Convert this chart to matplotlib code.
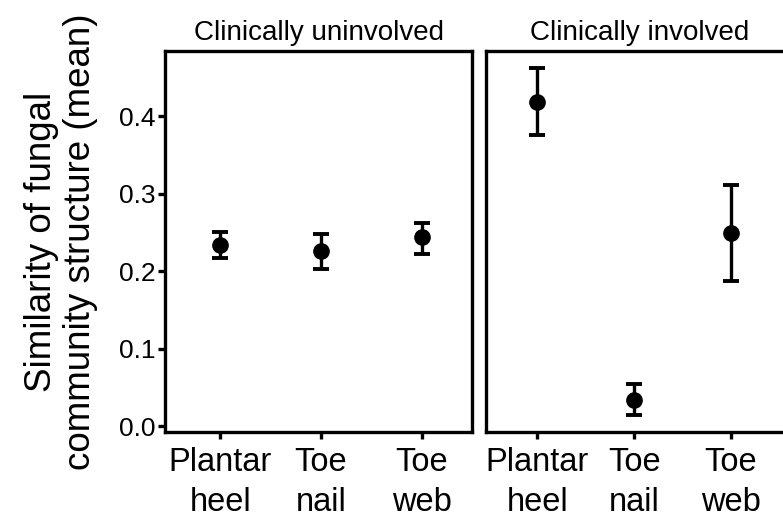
import numpy as np
import matplotlib
matplotlib.use("Agg")
import matplotlib.pyplot as plt

plt.rcParams['font.family'] = ['Liberation Sans', 'DejaVu Sans']

sites = ["Plantar\nheel", "Toe\nnail", "Toe\nweb"]
panels = ["Clinically uninvolved", "Clinically involved"]

# mean and error bar ends
mean_uninv = [0.234, 0.226, 0.244]
low_uninv = [0.217, 0.203, 0.223]
high_uninv = [0.251, 0.248, 0.263]

mean_inv = [0.419, 0.034, 0.250]
low_inv = [0.376, 0.015, 0.187]
high_inv = [0.462, 0.055, 0.312]

W, H = 783, 520
fig = plt.figure(figsize=(W / 100, H / 100), dpi=100)

# panel frames in pixels: left, top, right, bottom
boxes = [(165, 51, 472, 432), (486, 51, 793, 432)]
xlims = [(0.45, 3.5), (0.47, 3.64)]

all_low = low_uninv + low_inv
all_high = high_uninv + high_inv
rng = max(all_high) - min(all_low)
ylim = (min(all_low) - 0.05 * rng, max(all_high) + 0.05 * rng)

series = [(mean_uninv, low_uninv, high_uninv), (mean_inv, low_inv, high_inv)]

for i, (box, title, (m, lo, hi)) in enumerate(zip(boxes, panels, series)):
    l, t, r, b = box
    ax = fig.add_axes([l / W, (H - b) / H, (r - l) / W, (b - t) / H])
    x = np.arange(1, len(sites) + 1)
    m = np.array(m)
    yerr = np.vstack([m - np.array(lo), np.array(hi) - m])
    ax.errorbar(x, m, yerr=yerr, fmt='o', color='black', ms=11,
                elinewidth=2.4, capsize=5.8, capthick=2.8)
    ax.set_xlim(*xlims[i])
    ax.set_ylim(*ylim)
    ax.set_xticks(x)
    ax.set_xticklabels(sites, fontsize=23.5, linespacing=1.38)
    ax.set_yticks([0.0, 0.1, 0.2, 0.3, 0.4])
    ax.set_yticklabels(["0.0", "0.1", "0.2", "0.3", "0.4"], fontsize=19)
    ax.tick_params(axis='both', direction='out', length=5, width=2.4, pad=2)
    ax.tick_params(axis='x', pad=6)
    for s in ax.spines.values():
        s.set_linewidth(2.4)
    ax.set_title(title, fontsize=20, pad=8)
    if i == 0:
        ax.set_ylabel("Similarity of fungal\ncommunity structure (mean)",
                      fontsize=26.5, linespacing=1.15, labelpad=15)
    else:
        ax.tick_params(axis='y', left=False, labelleft=False)

fig.savefig("out.png", dpi=100)
